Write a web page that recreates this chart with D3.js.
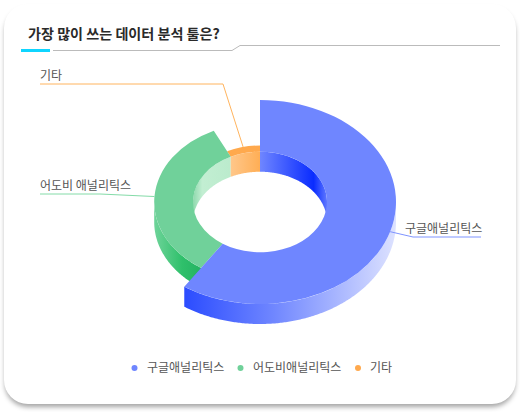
<!DOCTYPE html>
<html><head><meta charset="utf-8">
<script src="https://cdnjs.cloudflare.com/ajax/libs/d3/7.8.5/d3.min.js"></script>
<style>
html,body{margin:0;padding:0;background:#fff;width:520px;height:412px;overflow:hidden}
#card{position:absolute;left:4px;top:4px;width:512px;height:400px;background:#fff;border-radius:24px;box-shadow:0 4px 5px -1px rgba(0,0,0,.36)}
svg{position:absolute;left:0;top:0}
text{font-family:"Noto Sans CJK KR","Noto Sans",sans-serif}
</style></head><body><div id="card"></div><svg id="c" width="520" height="412"></svg>
<script>
const title = "가장 많이 쓰는 데이터 분석 툴은?";
const categories = ["구글애널리틱스", "어도비애널리틱스", "기타"];
const calloutNames = ["구글애널리틱스", "어도비 애널리틱스", "기타"];
const values = [59.4, 33.4, 7.2];
const colors = ["#6f86ff", "#70d19a", "#ffa94d"];
const leaderColors = ["#7f94ff", "#84dba8", "#ffb45e"];

const cx = 260, cy = 202, squash = 0.75, depth = 20, inner = 67, outer = 136;
const svg = d3.select("#c");
const defs = svg.append("defs");
const grad = (id, x1, x2, stops) => {
  const g = defs.append("linearGradient").attr("id", id).attr("gradientUnits", "userSpaceOnUse")
    .attr("x1", x1).attr("x2", x2).attr("y1", 0).attr("y2", 0);
  stops.forEach(s => g.append("stop").attr("offset", s[0]).attr("stop-color", s[1]));
};
grad("bIn", 0, 67, [[0, "#6f86ff"], [.8, "#0a2cff"], [1, "#5f78ff"]]);
grad("gIn", -67, -30, [[0, "#8fd9ad"], [.25, "#c2eed2"], [1, "#bbebcd"]]);
grad("oIn", -30, 0, [[0, "#ffc88c"], [1, "#ffae55"]]);
grad("gOutLocal", -106, -55, [[0, "#6fd49a"], [.55, "#2fc06b"], [1, "#22b060"]]);
grad("bOutLocal", -76, 136, [[0, "#2b4cff"], [.42, "#6f86ff"], [1, "#dde2ff"]]);

const r = d3.scaleLinear().domain([0, d3.max(values)]).range([inner, outer]);
const pie = d3.pie().sort(null)(values);
const arc = d3.arc().innerRadius(inner).outerRadius((d) => r(d.value));
const px = (rad, a) => rad * Math.sin(a);
const py = (rad, a) => -rad * Math.cos(a) * squash;

// wall between an elliptical edge and the same edge pushed down by depth
const wall = (rad, a0, a1) => {
  const as = d3.range(a0, a1, 0.01).concat([a1]);
  const top = as.map(a => [px(rad, a), py(rad, a)]);
  const bot = as.map(a => [px(rad, a), py(rad, a) + depth]).reverse();
  return d3.line()(top.concat(bot)) + "Z";
};
const G = svg.append("g").attr("transform", `translate(${cx},${cy})`);
const [blue, green, orange] = pie;
const half = Math.PI / 2;

// inner walls (back half of the hole)
G.append("path").attr("d", wall(inner, 0, half)).attr("fill", "url(#bIn)");
G.append("path").attr("d", wall(inner, 3 * half, green.endAngle)).attr("fill", "url(#gIn)");
G.append("path").attr("d", wall(inner, orange.startAngle, orange.endAngle)).attr("fill", "url(#oIn)");

// outer wall of green, then top faces back to front
G.append("path").attr("d", wall(r(green.value), green.startAngle, 3 * half)).attr("fill", "url(#gOutLocal)");
const faces = svg.append("g").attr("transform", `translate(${cx},${cy}) scale(1,${squash})`);
[orange, green].forEach(d => {
  faces.append("path").attr("d", arc(d)).attr("fill", colors[d.index]);
});
const front = svg.append("g").attr("transform", `translate(${cx},${cy})`);
front.append("path").attr("d", wall(r(blue.value), half, blue.endAngle)).attr("fill", "url(#bOutLocal)");
const faceBlue = svg.append("g").attr("transform", `translate(${cx},${cy}) scale(1,${squash})`);
faceBlue.append("path").attr("d", arc(blue)).attr("fill", colors[0]);

// leaders
const labelEnds = [[481, 413, 237, 405], [40, 100, 194, 40], [40, 223, 84, 40]];
pie.forEach((d, i) => {
  const m = (d.startAngle + d.endAngle) / 2, R = r(d.value);
  const [xa, xb, y, tx] = labelEnds[i];
  svg.append("path").attr("fill", "none").attr("stroke", leaderColors[i]).attr("stroke-width", 1)
    .attr("d", d3.line()([[cx + px(R, m), cy + py(R, m)], [xb, y], [xa, y]]));
  svg.append("text").attr("x", tx).attr("y", y - 4.5).attr("font-size", 12).attr("fill", "#555").text(calloutNames[i]);
});

// title
svg.append("text").attr("x", 28).attr("y", 39).attr("font-size", 14.1).attr("font-weight", 700).attr("fill", "#2a2a2a").text(title);
svg.append("path").attr("fill", "none").attr("stroke", "#bbb").attr("stroke-width", 1)
  .attr("d", d3.line()([[53, 50.5], [232, 50.5], [240, 45.5], [500, 45.5]]));
svg.append("rect").attr("x", 21).attr("y", 49).attr("width", 29).attr("height", 3).attr("fill", "#0fd5ff");

// legend
const legendX = [134.5, 240.5, 358], legendTextX = [147, 253, 370];
categories.forEach((c, i) => {
  svg.append("circle").attr("cx", legendX[i]).attr("cy", 368).attr("r", 3).attr("fill", colors[i]);
  svg.append("text").attr("x", legendTextX[i]).attr("y", 372).attr("font-size", 12).attr("fill", "#555").text(c);
});
</script></body></html>
